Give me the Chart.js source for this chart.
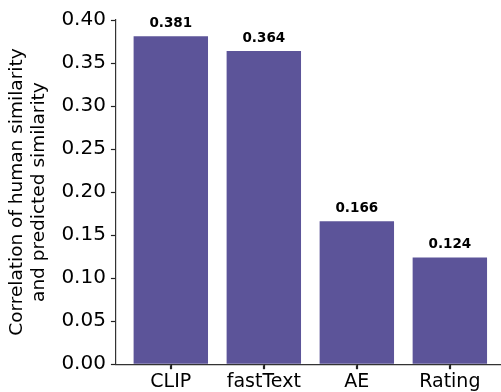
<!DOCTYPE html>
<html>
<head>
<meta charset="utf-8">
<script src="https://cdn.jsdelivr.net/npm/chart.js@4"></script>
<style>
  html, body { margin: 0; padding: 0; background: #fff; }
  #wrap { width: 501px; height: 392px; }
</style>
</head>
<body>
<div id="wrap"><canvas id="grafico"></canvas></div>
<script>
// dados do gráfico
const categorias = ['CLIP', 'fastText', 'AE', 'Rating'];
const valores = [0.381, 0.364, 0.166, 0.124];
const ticksY = [0.00, 0.05, 0.10, 0.15, 0.20, 0.25, 0.30, 0.35, 0.40];

const corBarra = '#5c5499';
const fonte = 'DejaVu Sans';

// rótulos em cima das barras + marcas do eixo x
const rotulosBarras = {
    id: 'rotulosBarras',
    afterDatasetsDraw(chart) {
        const ctx = chart.ctx;
        const meta = chart.getDatasetMeta(0);
        ctx.save();
        ctx.font = 'bold 13.5px "' + fonte + '"';
        ctx.fillStyle = '#000';
        ctx.textAlign = 'center';
        ctx.textBaseline = 'alphabetic';
        meta.data.forEach((bar, i) => {
            ctx.fillText(valores[i].toFixed(3), bar.x, bar.y - 9);
        });
        ctx.restore();
    },
    afterDraw(chart) {
        const ctx = chart.ctx;
        const x = chart.scales.x;
        const base = chart.chartArea.bottom;
        ctx.save();
        ctx.strokeStyle = '#222';
        ctx.lineWidth = 1.2;
        categorias.forEach((c, i) => {
            const px = Math.round(x.getPixelForValue(i)) + 0.5;
            ctx.beginPath();
            ctx.moveTo(px, base);
            ctx.lineTo(px, base + 5);
            ctx.stroke();
        });
        ctx.restore();
    }
};

const ctx = document.getElementById('grafico').getContext('2d');

const grafico = new Chart(ctx, {
    type: 'bar',
    data: {
        datasets: [{
            data: valores.map((v, i) => ({ x: i, y: v })),
            backgroundColor: corBarra,
            borderWidth: 0,
            barPercentage: 1.0,
            categoryPercentage: 0.8
        }]
    },
    options: {
        responsive: true,
        maintainAspectRatio: false,
        animation: false,
        layout: { padding: { top: 20, right: 0, bottom: -2, left: 6 } },
        plugins: {
            legend: { display: false },
            tooltip: { enabled: false }
        },
        scales: {
            x: {
                type: 'linear',
                offset: false,
                min: -0.59,
                max: 3.55,
                afterBuildTicks: (scale) => {
                    scale.ticks = categorias.map((c, i) => ({ value: i }));
                },
                ticks: {
                    callback: (v) => categorias[v],
                    color: '#000',
                    font: { family: fonte, size: 19 },
                    padding: 1,
                    maxRotation: 0
                },
                grid: {
                    display: true,
                    offset: false,
                    drawOnChartArea: false,
                    drawTicks: true,
                    tickLength: 5,
                    tickWidth: 1.2,
                    tickColor: '#222',
                    color: '#222'
                },
                border: { display: true, color: '#333', width: 1.2 }
            },
            y: {
                min: 0,
                max: 0.4,
                afterBuildTicks: (scale) => {
                    scale.ticks = ticksY.map(v => ({ value: v }));
                },
                ticks: {
                    callback: (v) => v.toFixed(2),
                    color: '#000',
                    font: { family: fonte, size: 20 },
                    padding: 5
                },
                grid: {
                    display: true,
                    drawOnChartArea: false,
                    drawTicks: true,
                    tickLength: 5,
                    tickWidth: 1.2,
                    tickColor: '#222',
                    color: '#222'
                },
                border: { display: true, color: '#333', width: 1.2 },
                title: {
                    display: true,
                    text: ['Correlation of human similarity', 'and predicted similarity'],
                    color: '#000',
                    font: { family: fonte, size: 18.5, lineHeight: 1.2 },
                    padding: { top: 0, bottom: 6 }
                }
            }
        }
    },
    plugins: [rotulosBarras]
});
</script>
</body>
</html>
